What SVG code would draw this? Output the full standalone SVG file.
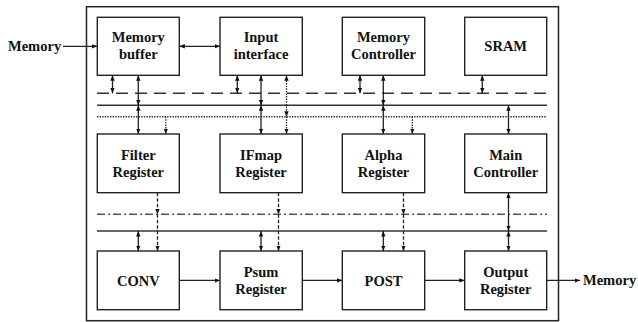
<svg xmlns="http://www.w3.org/2000/svg" width="638" height="322" viewBox="0 0 638 322">
  <style>
    .box { fill: #fff; stroke: #222; stroke-width: 1.4; }
    .lbl { font-weight: bold; font-size: 14.5px; fill: #111; text-anchor: middle; }
    .ext { font-weight: bold; font-size: 14.5px; fill: #111; }
    .w { stroke: #222; stroke-width: 1.3; fill: none; }
    .bus { stroke: #333; stroke-width: 1.4; fill: none; }
    .dash { stroke-dasharray: 12 7; }
    .dot { stroke-dasharray: 1.4 1.2; }
    .dashdot { stroke: #555; stroke-dasharray: 8 3 2 3; }
    .vdash { stroke-dasharray: 3.5 2; }
    .vdot { stroke-dasharray: 1.4 1.2; }
    .a2 { marker-start: url(#ah); marker-end: url(#ah); }
    .a1 { marker-end: url(#ah); }
  </style>
  <defs>
    <marker id="ah" markerUnits="userSpaceOnUse" markerWidth="6" markerHeight="5" refX="5.5" refY="2.2" orient="auto-start-reverse">
      <path d="M0,0 L5.5,2.2 L0,4.4 z" fill="#111"/>
    </marker>
  </defs>

  <!-- outer frame -->
  <rect x="86.5" y="6.7" width="472" height="314" fill="none" stroke="#222" stroke-width="1.5"/>

  <!-- buses -->
  <g id="buses">
    <line class="bus dash" x1="97" y1="93.3" x2="547" y2="93.3"/>
    <line class="bus" x1="97" y1="105.3" x2="547" y2="105.3"/>
    <line class="bus dot" x1="97" y1="116.7" x2="547" y2="116.7"/>
    <line class="bus dashdot" x1="97" y1="214.3" x2="547" y2="214.3"/>
    <line class="bus" x1="97" y1="231" x2="547" y2="231"/>
  </g>

  <!-- connectors -->
  <g id="connectors">
    <!-- external I/O and row links -->
    <line class="w a1" x1="63" y1="46.3" x2="97.3" y2="46.3"/>
    <line class="w a2" x1="179.3" y1="46.3" x2="220" y2="46.3"/>
    <line class="w a1" x1="179.3" y1="280.4" x2="220" y2="280.4"/>
    <line class="w a1" x1="302.3" y1="280.4" x2="342.3" y2="280.4"/>
    <line class="w a1" x1="424.7" y1="280.4" x2="464.7" y2="280.4"/>
    <line class="w a1" x1="546.7" y1="280.4" x2="580" y2="280.4"/>

    <!-- row 1 to upper buses -->
    <line class="w a2" x1="112.5" y1="75.3" x2="112.5" y2="93.3"/>
    <line class="w a2" x1="138.3" y1="75.3" x2="138.3" y2="105.3"/>
    <line class="w a2" x1="237.3" y1="75.3" x2="237.3" y2="93.3"/>
    <line class="w a2" x1="261" y1="75.3" x2="261" y2="105.3"/>
    <line class="w vdot a2" x1="286.5" y1="75.3" x2="286.5" y2="116.7"/>
    <line class="w a2" x1="360" y1="75.3" x2="360" y2="93.3"/>
    <line class="w a2" x1="383.3" y1="75.3" x2="383.3" y2="105.3"/>
    <line class="w a2" x1="482.3" y1="75.3" x2="482.3" y2="93.3"/>

    <!-- upper buses to row 2 -->
    <line class="w a2" x1="138.3" y1="105.3" x2="138.3" y2="134"/>
    <line class="w vdot a1" x1="165.8" y1="116.7" x2="165.8" y2="134"/>
    <line class="w a2" x1="261" y1="105.3" x2="261" y2="134"/>
    <line class="w vdot a1" x1="286.5" y1="116.7" x2="286.5" y2="134"/>
    <line class="w a2" x1="383.3" y1="105.3" x2="383.3" y2="134"/>
    <line class="w vdot a1" x1="412.3" y1="116.7" x2="412.3" y2="134"/>
    <line class="w a2" x1="508.5" y1="105.3" x2="508.5" y2="134"/>

    <!-- row 2 to lower buses -->
    <line class="w vdash a1" x1="157.5" y1="192.7" x2="157.5" y2="214.3"/>
    <line class="w vdash a1" x1="278.5" y1="192.7" x2="278.5" y2="214.3"/>
    <line class="w vdash a1" x1="403.5" y1="192.7" x2="403.5" y2="214.3"/>
    <line class="w a2" x1="508.5" y1="192.7" x2="508.5" y2="231"/>

    <!-- lower buses to row 3 -->
    <line class="w vdash a1" x1="157.5" y1="214.3" x2="157.5" y2="251"/>
    <line class="w vdash a1" x1="278.5" y1="214.3" x2="278.5" y2="251"/>
    <line class="w vdash a1" x1="403.5" y1="214.3" x2="403.5" y2="251"/>
    <line class="w a2" x1="138.3" y1="231" x2="138.3" y2="251"/>
    <line class="w a2" x1="261" y1="231" x2="261" y2="251"/>
    <line class="w a2" x1="383.3" y1="231" x2="383.3" y2="251"/>
    <line class="w a2" x1="508.5" y1="231" x2="508.5" y2="251"/>
  </g>

  <g font-family="'Liberation Serif', 'DejaVu Serif', serif">
  <text class="ext" x="8" y="50.5">Memory</text>
  <text class="ext" x="583" y="284.5">Memory</text>

  <!-- row 1 -->
  <g id="memory-buffer">
    <rect class="box" x="97.3" y="17.3" width="82" height="58"/>
    <text class="lbl" x="138.3" y="42.3">Memory</text>
    <text class="lbl" x="138.3" y="59.3">buffer</text>
  </g>
  <g id="input-interface">
    <rect class="box" x="220" y="17.3" width="82.3" height="58"/>
    <text class="lbl" x="261" y="42.3">Input</text>
    <text class="lbl" x="261" y="59.3">interface</text>
  </g>
  <g id="memory-controller">
    <rect class="box" x="342.3" y="17.3" width="82.4" height="58"/>
    <text class="lbl" x="383.5" y="42.3">Memory</text>
    <text class="lbl" x="383.5" y="59.3">Controller</text>
  </g>
  <g id="sram">
    <rect class="box" x="464.7" y="17.3" width="82" height="58"/>
    <text class="lbl" x="505.7" y="51.3">SRAM</text>
  </g>

  <!-- row 2 -->
  <g id="filter-register">
    <rect class="box" x="97.3" y="134" width="82" height="58.7"/>
    <text class="lbl" x="138.3" y="159.5">Filter</text>
    <text class="lbl" x="138.3" y="176.5">Register</text>
  </g>
  <g id="ifmap-register">
    <rect class="box" x="220" y="134" width="82.3" height="58.7"/>
    <text class="lbl" x="261" y="159.5">IFmap</text>
    <text class="lbl" x="261" y="176.5">Register</text>
  </g>
  <g id="alpha-register">
    <rect class="box" x="342.3" y="134" width="82.4" height="58.7"/>
    <text class="lbl" x="383.5" y="159.5">Alpha</text>
    <text class="lbl" x="383.5" y="176.5">Register</text>
  </g>
  <g id="main-controller">
    <rect class="box" x="464.7" y="134" width="82" height="58.7"/>
    <text class="lbl" x="505.7" y="159.5">Main</text>
    <text class="lbl" x="505.7" y="176.5">Controller</text>
  </g>

  <!-- row 3 -->
  <g id="conv">
    <rect class="box" x="97.3" y="251" width="82" height="58.7"/>
    <text class="lbl" x="138.3" y="285.5">CONV</text>
  </g>
  <g id="psum-register">
    <rect class="box" x="220" y="251" width="82.3" height="58.7"/>
    <text class="lbl" x="261" y="276.5">Psum</text>
    <text class="lbl" x="261" y="293.5">Register</text>
  </g>
  <g id="post">
    <rect class="box" x="342.3" y="251" width="82.4" height="58.7"/>
    <text class="lbl" x="383.5" y="285.5">POST</text>
  </g>
  <g id="output-register">
    <rect class="box" x="464.7" y="251" width="82" height="58.7"/>
    <text class="lbl" x="505.7" y="276.5">Output</text>
    <text class="lbl" x="505.7" y="293.5">Register</text>
  </g>
  </g>
</svg>
